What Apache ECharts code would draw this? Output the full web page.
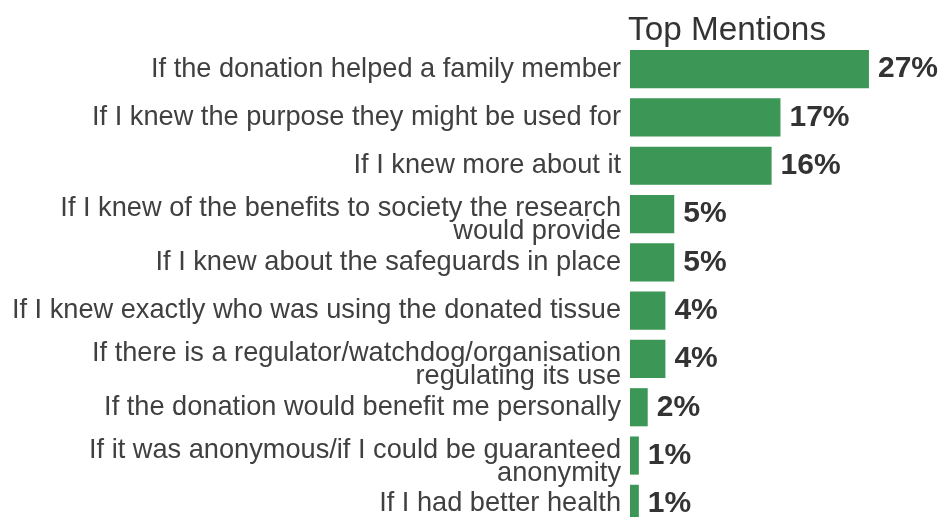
<!DOCTYPE html>
<html>
<head>
<meta charset="utf-8">
<script src="https://cdn.jsdelivr.net/npm/echarts@6/dist/echarts.min.js"></script>
<style>
  html, body { margin: 0; padding: 0; background: #ffffff; overflow: hidden; }
  /* the plot runs a little past the bottom edge of the window */
  #chart { width: 940px; height: 530px; }
</style>
</head>
<body>
<div id="chart"></div>
<script>
// Reasons people gave, listed top to bottom
var categories = [
  'If the donation helped a family member',
  'If I knew the purpose they might be used for',
  'If I knew more about it',
  'If I knew of the benefits to society the research\nwould provide',
  'If I knew about the safeguards in place',
  'If I knew exactly who was using the donated tissue',
  'If there is a regulator/watchdog/organisation\nregulating its use',
  'If the donation would benefit me personally',
  'If it was anonymous/if I could be guaranteed\nanonymity',
  'If I had better health'
];

// Share of respondents (%)
var values = [27, 17, 16, 5, 5, 4, 4, 2, 1, 1];

var panelTitle = 'Top Mentions';

var chart = echarts.init(document.getElementById('chart'));

chart.setOption({
  backgroundColor: '#ffffff',
  animation: false,
  title: {
    text: panelTitle,
    left: 623,
    top: 9,
    textStyle: {
      fontFamily: 'Liberation Sans, Arial, sans-serif',
      fontSize: 33.3,
      fontWeight: 'normal',
      color: '#333333'
    }
  },
  grid: {
    left: 630,
    top: 45,
    width: 265.5,
    height: 483,
    containLabel: false
  },
  xAxis: {
    type: 'value',
    min: 0,
    max: 30,
    show: false
  },
  yAxis: {
    type: 'category',
    inverse: true,
    data: categories,
    axisLine: { show: false },
    axisTick: { show: false },
    splitLine: { show: false },
    axisLabel: {
      margin: 9,
      align: 'right',
      fontFamily: 'Liberation Sans, Arial, sans-serif',
      fontSize: 27.2,
      lineHeight: 23,
      color: '#404040',
      // wrapped labels sit slightly lower than their bar: a thin spacer line on top
      formatter: function (v) {
        return v.indexOf('\n') >= 0 ? '{gap| }\n' + v : v;
      },
      rich: {
        gap: { fontSize: 1, lineHeight: 12, height: 12 }
      }
    }
  },
  series: [{
    type: 'bar',
    data: values,
    barCategoryGap: '21%',
    itemStyle: { color: '#3c9655' },
    label: {
      show: true,
      position: 'right',
      distance: 9,
      formatter: '{c}%',
      fontFamily: 'Liberation Sans, Arial, sans-serif',
      fontSize: 30,
      fontWeight: 'bold',
      color: '#333333'
    }
  }]
});
</script>
</body>
</html>
